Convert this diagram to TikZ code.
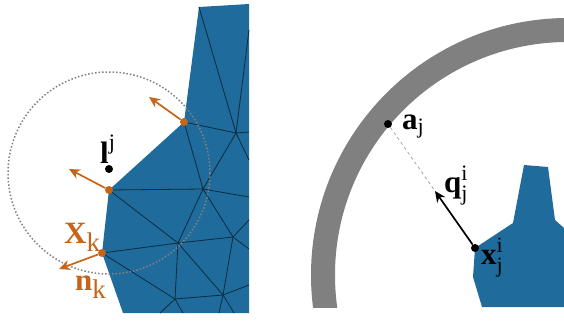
\documentclass[tikz,border=0pt]{standalone}
\usepackage{fix-cm}
\usepackage{amsmath}
\usepackage{amssymb}
\usepackage{fontspec}
\usepackage{tikz}
\usepackage{xcolor}
\usetikzlibrary{arrows.meta}
\newfontfamily\lblfont{Liberation Serif}
\newcommand{\bl}[1]{\mbox{\lblfont\bfseries #1}}
\newcommand{\sm}[2][22]{\mbox{\lblfont\fontsize{#1}{#1}\selectfont #2}}
\definecolor{meshblue}{HTML}{1F6C9C}
\definecolor{normalorange}{HTML}{C4651A}
\definecolor{wallgray}{HTML}{808080}
\tikzset{
    edge/.style={black!60!meshblue,line width=0.8pt},
    dotblack/.style={circle,fill=black,inner sep=0pt,minimum size=8pt},
    dotorange/.style={circle,fill=normalorange,inner sep=0pt,minimum size=8pt},
    normal/.style={normalorange,line width=1.7pt,-{Stealth[length=11pt,width=10pt]}},
    lab/.style={inner sep=0pt,anchor=base west,font=\fontsize{31}{33}\selectfont},
}

\begin{document}
\begin{tikzpicture}[x=1pt,y=-1pt]
    \useasboundingbox (0,0) rectangle (564,321);
    % left: mesh
    \fill [meshblue] (199,7)--(249,4)--(249,313)--(123,313)--(102,253)--(109,190)--(184,122)--cycle;
    \draw[edge] (199,7)--(236,133);
    \draw[edge] (236,133)--(249,30);
    \draw[edge] (184,122)--(236,133);
    \draw[edge] (236,133)--(249,132);
    \draw[edge] (184,122)--(203,189);
    \draw[edge] (236,133)--(203,189);
    \draw[edge] (236,133)--(249,160);
    \draw[edge] (109,190)--(203,189);
    \draw[edge] (109,190)--(178,243);
    \draw[edge] (102,253)--(178,243);
    \draw[edge] (178,243)--(203,189);
    \draw[edge] (203,189)--(233,237);
    \draw[edge] (203,189)--(249,197);
    \draw[edge] (178,243)--(233,237);
    \draw[edge] (233,237)--(249,220);
    \draw[edge] (233,237)--(249,249);
    \draw[edge] (178,243)--(175,299);
    \draw[edge] (178,243)--(223,295);
    \draw[edge] (233,237)--(223,295);
    \draw[edge] (175,299)--(223,295);
    \draw[edge] (102,253)--(175,299);
    \draw[edge] (175,299)--(160,313);
    \draw[edge] (175,299)--(183,313);
    \draw[edge] (223,295)--(219,313);
    \draw[edge] (223,295)--(234,313);
    \draw[edge] (223,295)--(249,285);
    \draw[wallgray,line width=1.5pt,dotted] (109,173) circle (101);
    % left: normals
    \node[dotorange] (P1) at (184,122) {};
    \node[dotorange] (P2) at (109,190) {};
    \node[dotorange] (P3) at (102,253) {};
    \coordinate (T1) at (149,97);
    \coordinate (T2) at (69,169);
    \coordinate (T3) at (59,269);
    \draw[normal] (P1)--(T1);
    \draw[normal] (P2)--(T2);
    \draw[normal] (P3)--(T3);
    \node[dotblack] (L) at (109,169) {};
    \node[lab] (lj) at (100,163) {$\bl{l}^{\sm{j}}$};
    \node[lab,normalorange] (Xk) at (64,243) {$\bl{X}_{\sm[27]{k}}$};
    \node[lab,normalorange] (nk) at (75,290) {$\bl{n}_{\sm[27]{k}}$};
    % right: wall
    \begin{scope}
        \clip (300,0) rectangle (564,307);
        \draw[wallgray,line width=24pt] (568,275) circle (245);
    \end{scope}
    % right: body
    \fill [meshblue] (524,165)--(548,167)--(555,220)--(564,228)--(564,307)--(482,307)--(473,277)--(475,248)--(513,223)--cycle;
    \node[dotblack] (A) at (388,124) {};
    \node[dotblack] (Q) at (475,248) {};
    \coordinate (T4) at (435,191);
    \draw[wallgray!70,dashed,line width=0.8pt] (A)--(T4);
    \draw[black,line width=1.7pt,-{Stealth[length=11pt,width=10pt]}] (Q)--(T4);
    \node[lab] (aj) at (402,129) {$\bl{a}_{\sm{j}}$};
    \node[lab] (qj) at (444,192) {$\bl{q}_{\sm{j}}^{\sm{i}}$};
    \node[lab] (xj) at (481,264) {$\bl{x}_{\sm{j}}^{\sm{i}}$};
\end{tikzpicture}
\end{document}
